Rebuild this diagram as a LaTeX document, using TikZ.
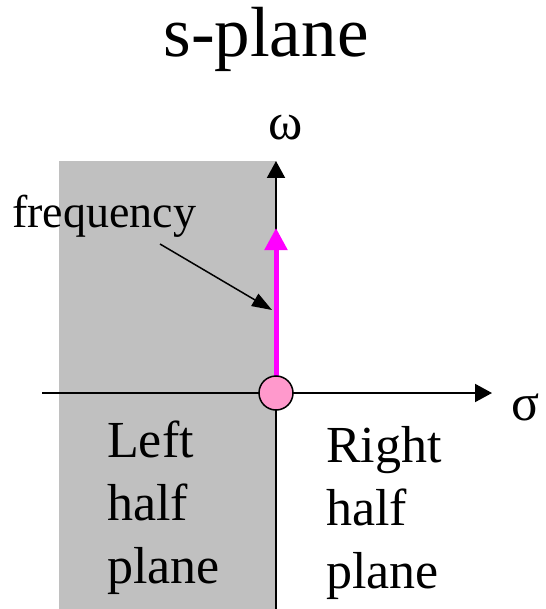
\documentclass[tikz,border=0pt]{standalone}
\usepackage{fontspec}
\setmainfont{Liberation Serif}
\usetikzlibrary{arrows.meta,positioning}
\definecolor{lhpgray}{RGB}{192,192,192}
\definecolor{freqmag}{RGB}{255,0,255}
\definecolor{originpink}{RGB}{255,153,204}

\begin{document}
\begin{tikzpicture}[x=1pt,y=-1pt,
    axis/.style={line width=2pt, -{Triangle[length=17pt,width=18pt]}},
    lbl/.style={inner sep=0pt, font=\fontsize{52}{63}\selectfont},
    blk/.style={inner sep=0pt, align=left, anchor=base west,
                font=\fontsize{52}{63}\selectfont}
  ]
    \useasboundingbox (0,0) rectangle (545,609);

    % Left half plane shading
    \fill[lhpgray] (59,161) rectangle (276,609);

    % Origin and axis ends
    \coordinate (O)   at (276,393);
    \coordinate (bot) at (276,609);
    \coordinate (top) at (276,161);
    \coordinate (lft) at (42,393);
    \coordinate (rgt) at (492,393);

    % Axes
    \draw[axis] (bot) -- (top);
    \draw[axis] (lft) -- (rgt);

    % Frequency arrow on the imaginary axis
    \coordinate (ftip) at (276,228);
    \draw[freqmag, line width=5pt, -{Triangle[length=22pt,width=22pt]}] (O) -- (ftip);
    \node[circle, draw=black, line width=1.5pt, fill=originpink,
          minimum size=34pt, inner sep=0pt] (orig) at (O) {};

    % Labels
    \node[lbl, font=\fontsize{71}{75}\selectfont, anchor=base] (title) at (266,57) {s-plane};
    \node[lbl, anchor=base] (omega) at (286,140) {ω};
    \node[lbl, anchor=base] (sigma) at (526,420) {σ};
    \node[inner sep=0pt, anchor=base west, font=\fontsize{46}{50}\selectfont]
          (freq) at (12,228) {frequency};
    \coordinate (fst) at (160,244);
    \coordinate (fpt) at (272,310);
    \draw[line width=1.5pt, -{Triangle[length=20pt,width=14pt]}] (fst) -- (fpt);

    % Half plane texts (anchored at the last line)
    \node[blk] (lhp) at (107,583) {Left\\half\\plane};
    \node[blk] (rhp) at (326,588) {Right\\half\\plane};
  \end{tikzpicture}
\end{document}
